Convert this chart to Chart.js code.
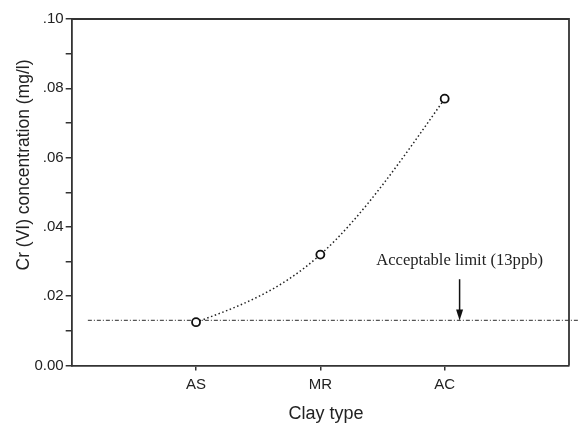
<!DOCTYPE html>
<html>
<head>
<meta charset="utf-8">
<script src="https://cdn.jsdelivr.net/npm/chart.js@4.4.1/dist/chart.umd.min.js"></script>
<style>
  html, body { margin: 0; padding: 0; background: #fff; }
  #wrap { width: 579px; height: 423px; position: relative; }
</style>
</head>
<body>
<div id="wrap"><canvas id="crChart"></canvas></div>
<script>
// clay samples and measured Cr(VI) in the leachate (mg/l)
const clayTypes = ['AS', 'MR', 'AC'];
const clayPos = [1, 2, 3];
const crConc = [0.0125, 0.032, 0.077];

// acceptable limit, 13 ppb
const limitValue = 0.013;
const limitSpan = [0.13, 4.1];

const yTicks = [0, 0.01, 0.02, 0.03, 0.04, 0.05, 0.06, 0.07, 0.08, 0.09, 0.10];

const axisColor = '#333';
const textColor = '#222';
const sansFont = '"Liberation Sans", Arial, sans-serif';

// slopes of a natural cubic spline through pixel points
function splineSlopes(pts) {
    const n = pts.length;
    if (n < 3) {
        const s = (pts[1].y - pts[0].y) / (pts[1].x - pts[0].x);
        return [s, s];
    }
    const h = [], d = [];
    for (let i = 0; i < n - 1; i++) {
        h.push(pts[i + 1].x - pts[i].x);
        d.push((pts[i + 1].y - pts[i].y) / h[i]);
    }
    // second derivatives, M[0] = M[n-1] = 0 (Thomas algorithm)
    const M = new Array(n).fill(0);
    const a = [], b = [], c = [], r = [];
    for (let i = 1; i < n - 1; i++) {
        a.push(h[i - 1]);
        b.push(2 * (h[i - 1] + h[i]));
        c.push(h[i]);
        r.push(6 * (d[i] - d[i - 1]));
    }
    const m = b.length;
    for (let i = 1; i < m; i++) {
        const w = a[i] / b[i - 1];
        b[i] -= w * c[i - 1];
        r[i] -= w * r[i - 1];
    }
    M[m] = r[m - 1] / b[m - 1];
    for (let i = m - 2; i >= 0; i--) {
        M[i + 1] = (r[i] - c[i] * M[i + 2]) / b[i];
    }
    const slopes = [];
    for (let i = 0; i < n - 1; i++) {
        slopes.push(d[i] - h[i] * (2 * M[i] + M[i + 1]) / 6);
    }
    slopes.push(d[n - 2] + h[n - 2] * (M[n - 2] + 2 * M[n - 1]) / 6);
    return slopes;
}

// dotted spline under the Cr(VI) markers
const splinePlugin = {
    id: 'spline',
    beforeDatasetsDraw(chart) {
        const pts = chart.getDatasetMeta(0).data.map(p => ({ x: p.x, y: p.y }));
        if (pts.length < 2) return;
        const s = splineSlopes(pts);
        const ctx = chart.ctx;
        ctx.save();
        ctx.strokeStyle = '#222';
        ctx.lineWidth = 1.5;
        ctx.setLineDash([1.5, 2.5]);
        ctx.beginPath();
        ctx.moveTo(pts[0].x, pts[0].y);
        for (let i = 0; i < pts.length - 1; i++) {
            const dx = (pts[i + 1].x - pts[i].x) / 3;
            ctx.bezierCurveTo(
                pts[i].x + dx, pts[i].y + s[i] * dx,
                pts[i + 1].x - dx, pts[i + 1].y - s[i + 1] * dx,
                pts[i + 1].x, pts[i + 1].y
            );
        }
        ctx.stroke();
        ctx.restore();
    }
};

// border box, axis titles and the limit arrow
const framePlugin = {
    id: 'frame',
    afterDraw(chart) {
        const { ctx, chartArea: a, scales } = chart;
        ctx.save();

        // top and right edges of the box
        ctx.strokeStyle = axisColor;
        ctx.lineWidth = 1.8;
        ctx.beginPath();
        ctx.moveTo(a.left, a.top);
        ctx.lineTo(a.right, a.top);
        ctx.lineTo(a.right, a.bottom);
        ctx.stroke();

        // axis titles
        ctx.fillStyle = textColor;
        ctx.textAlign = 'center';
        ctx.textBaseline = 'middle';
        ctx.font = '18px ' + sansFont;
        ctx.fillText('Clay type', 326, 414);
        ctx.font = '17.5px ' + sansFont;
        ctx.save();
        ctx.translate(24, 165);
        ctx.rotate(-Math.PI / 2);
        ctx.fillText('Cr (VI) concentration (mg/l)', 0, 0);
        ctx.restore();

        // arrow pointing at the limit line
        const ax = scales.x.getPixelForValue(3.12);
        const top = scales.y.getPixelForValue(0.0249);
        const tip = scales.y.getPixelForValue(limitValue);
        ctx.strokeStyle = '#111';
        ctx.fillStyle = '#111';
        ctx.lineWidth = 1.5;
        ctx.beginPath();
        ctx.moveTo(ax, top);
        ctx.lineTo(ax, tip - 10);
        ctx.stroke();
        ctx.beginPath();
        ctx.moveTo(ax - 3.5, tip - 11);
        ctx.lineTo(ax + 3.5, tip - 11);
        ctx.lineTo(ax, tip);
        ctx.closePath();
        ctx.fill();

        ctx.fillStyle = textColor;
        ctx.font = '16.6px "Liberation Serif", "Times New Roman", serif';
        ctx.textBaseline = 'alphabetic';
        ctx.fillText('Acceptable limit (13ppb)', ax, scales.y.getPixelForValue(0.029));

        ctx.restore();
    }
};

const ctx = document.getElementById('crChart');
new Chart(ctx, {
    type: 'line',
    data: {
        datasets: [
            {
                label: 'Cr (VI)',
                data: clayPos.map((x, i) => ({ x: x, y: crConc[i] })),
                showLine: false,
                pointRadius: 4,
                pointBorderWidth: 1.8,
                pointBackgroundColor: '#fff',
                pointBorderColor: '#111',
                order: 0
            },
            {
                label: 'Acceptable limit',
                data: limitSpan.map(x => ({ x: x, y: limitValue })),
                borderColor: '#555',
                borderWidth: 1.2,
                borderDash: [4, 2, 1, 2],
                pointRadius: 0,
                clip: false,
                order: 1
            }
        ]
    },
    options: {
        responsive: true,
        maintainAspectRatio: false,
        animation: false,
        layout: { padding: { top: 19, right: 10, left: 0, bottom: 0 } },
        plugins: {
            legend: { display: false },
            tooltip: { enabled: false }
        },
        scales: {
            x: {
                type: 'linear',
                min: 0,
                max: 4,
                afterBuildTicks: s => { s.ticks = clayPos.map(v => ({ value: v })); },
                afterFit: s => { s.height = 57.5; },
                ticks: {
                    callback: v => clayTypes[clayPos.indexOf(v)],
                    color: textColor,
                    font: { family: sansFont, size: 15 },
                    padding: 5
                },
                grid: { drawOnChartArea: false, tickLength: 5, color: axisColor, lineWidth: 1.5 },
                border: { color: axisColor, width: 1.8 }
            },
            y: {
                min: 0,
                max: 0.1,
                afterBuildTicks: s => { s.ticks = yTicks.map(v => ({ value: v })); },
                afterFit: s => { s.width = 71.7; },
                ticks: {
                    callback: v => {
                        const n = Math.round(v * 100);
                        if (n === 0) return '0.00';
                        return n % 2 === 0 ? '.' + String(n).padStart(2, '0') : '';
                    },
                    color: textColor,
                    font: { family: sansFont, size: 15 },
                    padding: 2
                },
                grid: { drawOnChartArea: false, tickLength: 6, color: axisColor, lineWidth: 1.5 },
                border: { color: axisColor, width: 1.8 }
            }
        }
    },
    plugins: [splinePlugin, framePlugin]
});
</script>
</body>
</html>
